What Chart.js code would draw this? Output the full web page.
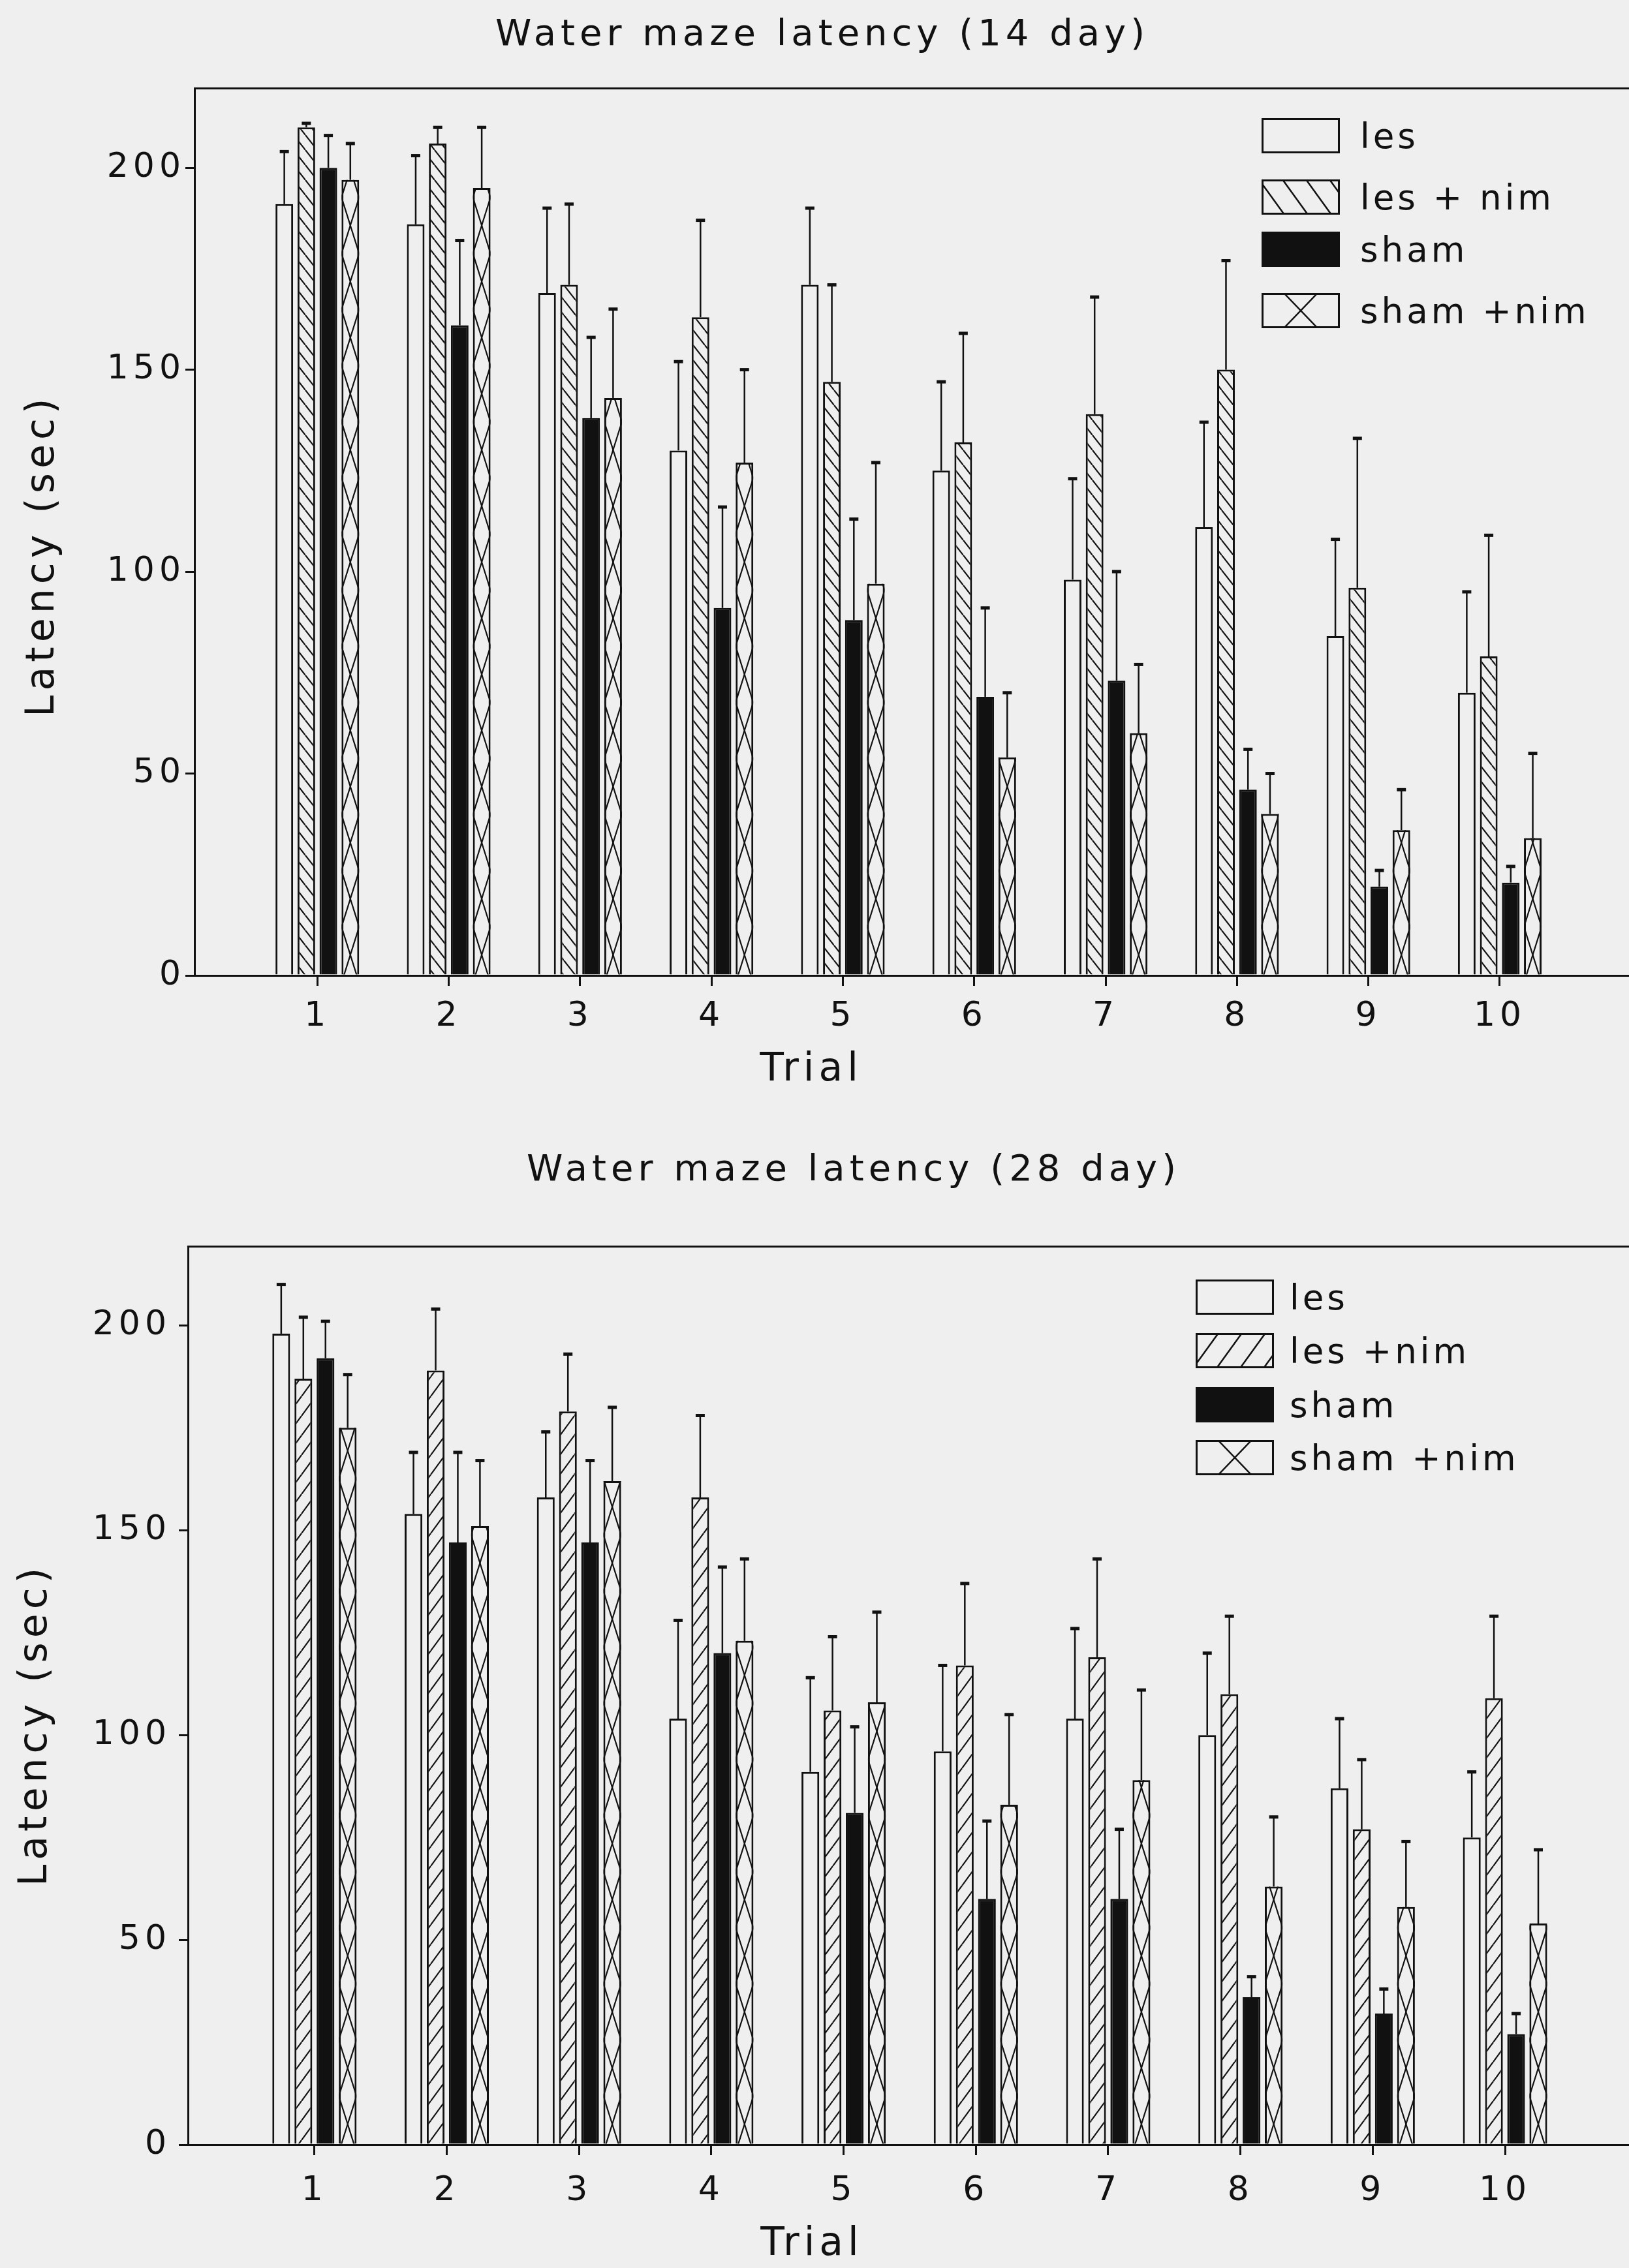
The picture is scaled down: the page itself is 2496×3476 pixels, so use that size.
<!DOCTYPE html>
<html lang="en">

<head>
    <meta charset="UTF-8">
    <title>Water maze latency</title>
    <style>
        html,
        body {
            margin: 0;
            padding: 0;
            background: #efefef;
            overflow: hidden;
        }

        body {
            width: 2496px;
            height: 3476px;
            position: relative;
            font-family: "DejaVu Sans", sans-serif;
            color: #111;
        }

        canvas.chart {
            position: absolute;
            left: 0;
        }

        #chart14 {
            top: 0;
        }

        #chart28 {
            top: 1720px;
        }

        .row {
            position: absolute;
            height: 54px;
            display: flex;
            align-items: center;
            white-space: pre;
            font-size: 53px;
            letter-spacing: 5px;
        }
    </style>
</head>

<body>
    <canvas class="chart" id="chart14" width="2520" height="1720"></canvas>
    <canvas class="chart" id="chart28" width="2616" height="1756"></canvas>

    <script src="https://cdn.jsdelivr.net/npm/chart.js"></script>
    <script>
        // values (seconds), trials 1..10
        const trials = [1, 2, 3, 4, 5, 6, 7, 8, 9, 10];

        // 14 day
        const les14 = [191, 186, 169, 130, 171, 125, 98, 111, 84, 70];
        const lesErr14 = [13, 17, 21, 22, 19, 22, 25, 26, 24, 25];
        const lesNim14 = [210, 206, 171, 163, 147, 132, 139, 150, 96, 79];
        const lesNimErr14 = [1, 4, 20, 24, 24, 27, 29, 27, 37, 30];
        const sham14 = [200, 161, 138, 91, 88, 69, 73, 46, 22, 23];
        const shamErr14 = [8, 21, 20, 25, 25, 22, 27, 10, 4, 4];
        const shamNim14 = [197, 195, 143, 127, 97, 54, 60, 40, 36, 34];
        const shamNimErr14 = [9, 15, 22, 23, 30, 16, 17, 10, 10, 21];

        // 28 day
        const les28 = [198, 154, 158, 104, 91, 96, 104, 100, 87, 75];
        const lesErr28 = [12, 15, 16, 24, 23, 21, 22, 20, 17, 16];
        const lesNim28 = [187, 189, 179, 158, 106, 117, 119, 110, 77, 109];
        const lesNimErr28 = [15, 15, 14, 20, 18, 20, 24, 19, 17, 20];
        const sham28 = [192, 147, 147, 120, 81, 60, 60, 36, 32, 27];
        const shamErr28 = [9, 22, 20, 21, 21, 19, 17, 5, 6, 5];
        const shamNim28 = [175, 151, 162, 123, 108, 83, 89, 63, 58, 54];
        const shamNimErr28 = [13, 16, 18, 20, 22, 22, 22, 17, 16, 18];

        const names14 = ['les', 'les + nim', 'sham', 'sham +nim'];
        const names28 = ['les', 'les +nim', 'sham', 'sham +nim'];

        const ink = '#111111';
        const paper = '#efefef';
        const fontFamily = '"DejaVu Sans", sans-serif';
        const spacing = '7px';

        // diagonal hatch tile, dir 1 = "\" , dir -1 = "/"
        function hatch(w, h, dir) {
            const c = document.createElement('canvas');
            c.width = w;
            c.height = h;
            const g = c.getContext('2d');
            g.fillStyle = paper;
            g.fillRect(0, 0, w, h);
            g.strokeStyle = ink;
            g.lineWidth = 2.2;
            [-w, 0, w].forEach(function (off) {
                g.beginPath();
                if (dir > 0) {
                    g.moveTo(off, 0);
                    g.lineTo(off + w, h);
                } else {
                    g.moveTo(off, h);
                    g.lineTo(off + w, 0);
                }
                g.stroke();
            });
            return g.createPattern(c, 'repeat');
        }

        // chain of crosses inside the sham + nim bars, then the error bars
        const barExtras = {
            id: 'barExtras',
            beforeUpdate(chart) { chart.ctx.letterSpacing = spacing; },
            beforeDraw(chart) { chart.ctx.letterSpacing = spacing; },
            afterDatasetsDraw(chart) {
                const c = chart.ctx;
                const yScale = chart.scales.y;
                c.save();
                c.strokeStyle = ink;
                chart.data.datasets.forEach(function (ds, i) {
                    const meta = chart.getDatasetMeta(i);
                    meta.data.forEach(function (bar, j) {
                        const half = bar.width / 2;
                        if (ds.chain) {
                            c.save();
                            c.beginPath();
                            c.rect(bar.x - half, bar.y, bar.width, bar.base - bar.y);
                            c.clip();
                            c.lineWidth = 2.2;
                            [-1, 1].forEach(function (side) {
                                let yy = bar.base - 30 + ds.chain;
                                let k = 0;
                                c.beginPath();
                                c.moveTo(bar.x, yy);
                                while (yy > bar.y - ds.chain) {
                                    yy -= ds.chain / 2;
                                    k++;
                                    c.lineTo(k % 2 ? bar.x + side * half : bar.x, yy);
                                }
                                c.stroke();
                            });
                            c.restore();
                        }
                        const top = yScale.getPixelForValue(ds.data[j] + ds.errors[j]);
                        c.lineWidth = 2.5;
                        c.beginPath();
                        c.moveTo(bar.x, bar.y);
                        c.lineTo(bar.x, top);
                        c.stroke();
                        c.lineWidth = 5;
                        c.beginPath();
                        c.moveTo(bar.x - 7, top);
                        c.lineTo(bar.x + 7, top);
                        c.stroke();
                    });
                });
                c.restore();
            }
        };

        // axis titles, placed where the printed figure has them
        const axisTitles = {
            id: 'axisTitles',
            afterDraw(chart) {
                const o = chart.options.plugins.axisTitles;
                const c = chart.ctx;
                c.save();
                c.letterSpacing = spacing;
                c.fillStyle = ink;
                c.font = '60px ' + fontFamily;
                c.textAlign = 'center';
                c.textBaseline = 'middle';
                c.fillText('Trial', chart.scales.x.getPixelForValue(o.trialAt), o.trialY);
                c.translate(o.latencyX, chart.scales.y.getPixelForValue(o.latencyAt));
                c.rotate(-Math.PI / 2);
                c.fillText('Latency (sec)', 0, 0);
                c.restore();
            }
        };

        function onlyTrials(s) {
            s.ticks = s.ticks.filter(t => t.value >= 1 && t.value <= 10);
        }

        function makeChart(id, o) {
            const ctx = document.getElementById(id);
            const tickFont = { family: fontFamily, size: 52, weight: 'normal' };
            return new Chart(ctx, {
                type: 'bar',
                data: {
                    labels: trials,
                    datasets: [
                        { label: o.names[0], data: o.les, errors: o.lesErr, backgroundColor: paper },
                        { label: o.names[1], data: o.lesNim, errors: o.lesNimErr, backgroundColor: o.hatch },
                        { label: o.names[2], data: o.sham, errors: o.shamErr, backgroundColor: ink },
                        { label: o.names[3], data: o.shamNim, errors: o.shamNimErr, backgroundColor: paper, chain: 86 }
                    ]
                },
                options: {
                    responsive: false,
                    animation: false,
                    devicePixelRatio: 1,
                    layout: { padding: 0 },
                    datasets: {
                        bar: {
                            categoryPercentage: 0.67,
                            barPercentage: 0.8,
                            borderColor: ink,
                            borderWidth: 3
                        }
                    },
                    plugins: {
                        legend: { display: false },
                        tooltip: { enabled: false },
                        title: {
                            display: true,
                            text: o.title,
                            color: ink,
                            font: { family: fontFamily, size: 56, weight: 'normal' },
                            padding: o.titlePad
                        },
                        axisTitles: o.axisTitles
                    },
                    scales: {
                        x: {
                            type: 'linear',
                            min: o.xMin,
                            max: o.xMax,
                            offset: false,
                            afterBuildTicks: onlyTrials,
                            grid: { offset: false, drawOnChartArea: false, tickLength: 16, color: ink, lineWidth: 3 },
                            border: { display: true, color: ink, width: 3 },
                            ticks: {
                                stepSize: 1, includeBounds: false, color: ink, padding: o.xTickPad,
                                font: tickFont, maxRotation: 0, callback: v => String(v)
                            },
                            afterFit: function (s) { s.height = o.xHeight; }
                        },
                        frameTop: {
                            type: 'linear',
                            axis: 'x',
                            position: 'top',
                            min: o.xMin,
                            max: o.xMax,
                            grid: { drawOnChartArea: false, drawTicks: false },
                            border: { display: true, color: ink, width: 3 },
                            ticks: { display: false },
                            afterFit: function (s) { s.height = 0; }
                        },
                        y: {
                            min: 0,
                            max: o.yMax,
                            grid: { drawOnChartArea: false, tickLength: 14, color: ink, lineWidth: 3 },
                            border: { display: true, color: ink, width: 3 },
                            ticks: { stepSize: 50, includeBounds: false, color: ink, padding: o.yTickPad, font: tickFont },
                            afterFit: function (s) { s.width = o.yWidth; }
                        }
                    }
                },
                plugins: [barExtras, axisTitles]
            });
        }

        makeChart('chart14', {
            title: 'Water maze latency (14 day)',
            names: names14,
            les: les14, lesErr: lesErr14,
            lesNim: lesNim14, lesNimErr: lesNimErr14,
            sham: sham14, shamErr: shamErr14,
            shamNim: shamNim14, shamNimErr: shamNimErr14,
            hatch: hatch(18, 23, 1),
            xMin: 0.065, xMax: 11.103, yMax: 219.7,
            titlePad: { top: 21, bottom: 47 },
            yWidth: 298, xHeight: 225,
            xTickPad: 16, yTickPad: 0,
            axisTitles: { trialAt: 4.76, trialY: 1640, latencyAt: 104, latencyX: 66 }
        });

        makeChart('chart28', {
            title: 'Water maze latency (28 day)',
            names: names28,
            les: les28, lesErr: lesErr28,
            lesNim: lesNim28, lesNimErr: lesNimErr28,
            sham: sham28, shamErr: shamErr28,
            shamNim: shamNim28, shamNimErr: shamNimErr28,
            hatch: hatch(22, 30, -1),
            xMin: 0.044, xMax: 11.529, yMax: 219.3,
            titlePad: { top: 41, bottom: 82 },
            yWidth: 288, xHeight: 189,
            xTickPad: 24, yTickPad: 12,
            axisTitles: { trialAt: 4.76, trialY: 1720, latencyAt: 102.5, latencyX: 55 }
        });

        // legends (boxes + real text), placed inside the frames
        function swatch(kind, dir) {
            const c = document.createElement('canvas');
            c.width = 120;
            c.height = 54;
            const g = c.getContext('2d');
            g.fillStyle = kind === 'solid' ? ink : paper;
            g.fillRect(0, 0, 120, 54);
            g.strokeStyle = ink;
            g.lineWidth = 2.5;
            if (kind === 'hatch') {
                for (let x0 = -40; x0 < 160; x0 += 36) {
                    g.beginPath();
                    if (dir > 0) {
                        g.moveTo(x0, 0);
                        g.lineTo(x0 + 39, 54);
                    } else {
                        g.moveTo(x0, 54);
                        g.lineTo(x0 + 39, 0);
                    }
                    g.stroke();
                }
            }
            if (kind === 'cross') {
                g.beginPath();
                g.moveTo(34, 0);
                g.lineTo(86, 54);
                g.moveTo(86, 0);
                g.lineTo(34, 54);
                g.stroke();
            }
            g.lineWidth = 3;
            g.strokeRect(1.5, 1.5, 117, 51);
            return c;
        }

        function addLegend(names, boxLeft, textLeft, rows, dir) {
            const kinds = ['empty', 'hatch', 'solid', 'cross'];
            names.forEach(function (name, i) {
                const row = document.createElement('div');
                row.className = 'row';
                row.style.left = boxLeft + 'px';
                row.style.top = (rows[i] - 27) + 'px';
                const sw = swatch(kinds[i], dir);
                sw.style.marginRight = (textLeft - boxLeft - 120) + 'px';
                row.appendChild(sw);
                const span = document.createElement('span');
                span.textContent = name;
                row.appendChild(span);
                document.body.appendChild(row);
            });
        }

        addLegend(names14, 1933, 2084, [208, 302, 382, 476], 1);
        addLegend(names28, 1832, 1976, [1988, 2070, 2153, 2234], -1);
    </script>
</body>

</html>
